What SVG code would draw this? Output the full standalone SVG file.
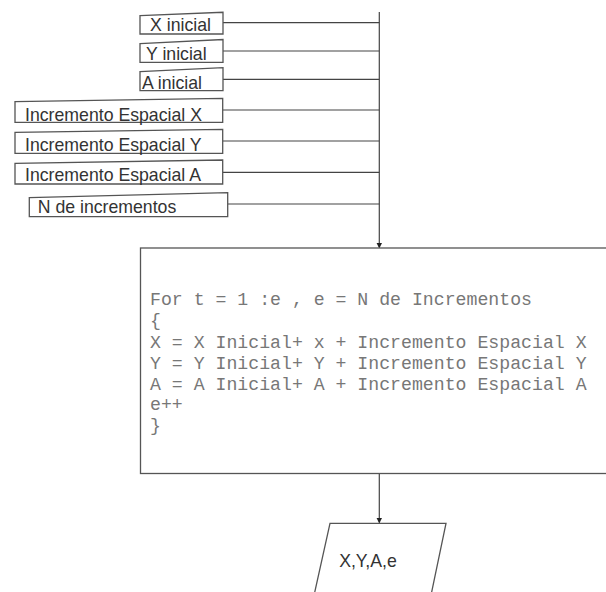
<svg xmlns="http://www.w3.org/2000/svg" width="606" height="592" viewBox="0 0 606 592">
<style>
.shape{fill:#fff;stroke:#555;stroke-width:1.3}
.lbl{font-family:"Liberation Sans",Arial,sans-serif;font-size:17.7px;fill:#333}
.code{font-family:"Liberation Mono","Courier New",monospace;font-size:18.2px;fill:#777}
.conn{fill:none;stroke:#444;stroke-width:1.2}
</style>
<defs>
<marker id="arr" markerWidth="6" markerHeight="6" refX="5" refY="3" orient="auto" markerUnits="userSpaceOnUse">
<path d="M0,0 L6,3 L0,6 Z" fill="#222"/>
</marker>
</defs>
<rect width="606" height="592" fill="#fff"/>
<g id="connectors">
<path class="conn" d="M223,22.7 H379.3"/>
<path class="conn" d="M223,51 H379.3"/>
<path class="conn" d="M223,79.3 H379.3"/>
<path class="conn" d="M223,110 H379.3"/>
<path class="conn" d="M223,141 H379.3"/>
<path class="conn" d="M223,172.3 H379.3"/>
<path class="conn" d="M228,204 H379.3"/>
<path class="conn" d="M379.3,12 V247.5" marker-end="url(#arr)"/>
<path class="conn" d="M379.3,474 V522.5" marker-end="url(#arr)"/>
</g>
<g id="x-inicial">
<path class="shape" d="M140,15.7 L223,12.3 L223,34 L140,34 Z"/>
<text class="lbl" x="150" y="30.5">X inicial</text>
</g>
<g id="y-inicial">
<path class="shape" d="M140,43.7 L223,39.5 L223,62.3 L140,62.3 Z"/>
<text class="lbl" x="146" y="59.5">Y inicial</text>
</g>
<g id="a-inicial">
<path class="shape" d="M140,71.7 L223,67.7 L223,90.7 L140,90.7 Z"/>
<text class="lbl" x="142" y="88.5">A inicial</text>
</g>
<g id="inc-x">
<path class="shape" d="M15,101.7 L222.7,98.3 L222.7,122.3 L15,122.3 Z"/>
<text class="lbl" x="25" y="120.5">Incremento Espacial X</text>
</g>
<g id="inc-y">
<path class="shape" d="M15,132.3 L222.7,129.3 L222.7,153.3 L15,153.3 Z"/>
<text class="lbl" x="25" y="150.5">Incremento Espacial Y</text>
</g>
<g id="inc-a">
<path class="shape" d="M15,163.3 L222.7,160 L222.7,184 L15,184 Z"/>
<text class="lbl" x="25" y="181">Incremento Espacial A</text>
</g>
<g id="n-inc">
<path class="shape" d="M29.3,197.7 L227.7,192.7 L227.7,216.7 L29.3,216.7 Z"/>
<text class="lbl" x="37.7" y="213">N de incrementos</text>
</g>
<g id="loop">
<rect class="shape" x="140.5" y="248" width="480" height="225.5"/>
<text class="code" x="150" y="305">For t = 1 :e , e = N de Incrementos</text>
<text class="code" x="150" y="326">{</text>
<text class="code" x="150" y="347.5">X = X Inicial+ x + Incremento Espacial X</text>
<text class="code" x="150" y="368.5">Y = Y Inicial+ Y + Incremento Espacial Y</text>
<text class="code" x="150" y="389.5">A = A Inicial+ A + Incremento Espacial A</text>
<text class="code" x="150" y="410">e++</text>
<text class="code" x="150" y="431">}</text>
</g>
<g id="output">
<path class="shape" d="M330,523.3 L446,523.3 L430,600 L313,600 Z"/>
<text class="lbl" x="368" y="567" text-anchor="middle">X,Y,A,e</text>
</g>
</svg>
